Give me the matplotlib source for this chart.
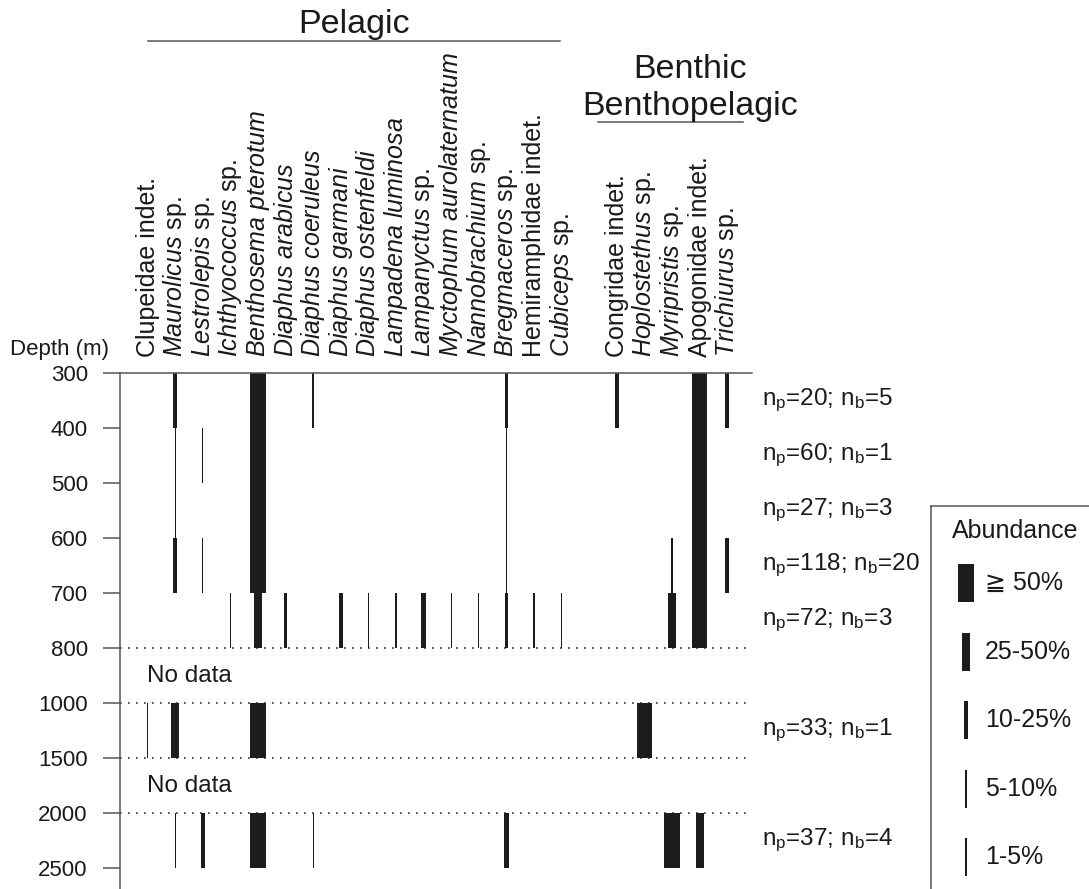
import matplotlib
matplotlib.use("Agg")
import matplotlib.pyplot as plt

plt.rcParams["font.family"] = "Liberation Sans"
plt.rcParams["mathtext.fontset"] = "custom"
plt.rcParams["mathtext.rm"] = "Liberation Sans"
plt.rcParams["mathtext.it"] = "Liberation Sans:italic"

# ---- data -------------------------------------------------------------
depth_ticks = [300, 400, 500, 600, 700, 800, 1000, 1500, 2000, 2500]
intervals = [(300, 400), (400, 500), (500, 600), (600, 700), (700, 800),
             (1000, 1500), (2000, 2500)]
sample_sizes = ["n$_{\\rm p}$=20; n$_{\\rm b}$=5", "n$_{\\rm p}$=60; n$_{\\rm b}$=1",
                "n$_{\\rm p}$=27; n$_{\\rm b}$=3", "n$_{\\rm p}$=118; n$_{\\rm b}$=20",
                "n$_{\\rm p}$=72; n$_{\\rm b}$=3", "n$_{\\rm p}$=33; n$_{\\rm b}$=1",
                "n$_{\\rm p}$=37; n$_{\\rm b}$=4"]
no_data = [(800, 1000), (1500, 2000)]

pelagic = ["Clupeidae indet.", "Maurolicus sp.", "Lestrolepis sp.", "Ichthyococcus sp.",
           "Benthosema pterotum", "Diaphus arabicus", "Diaphus coeruleus",
           "Diaphus garmani", "Diaphus ostenfeldi", "Lampadena luminosa",
           "Lampanyctus sp.", "Myctophum aurolaternatum", "Nannobrachium sp.",
           "Bregmaceros sp.", "Hemiramphidae indet.", "Cubiceps sp."]
benthic = ["Congridae indet.", "Hoplostethus sp.", "Myripristis sp.",
           "Apogonidae indet.", "Trichiurus sp."]

# abundance class per interval: 0 none, 1 1-5%, 2 5-10%, 3 10-25%, 4 25-50%, 5 >=50%
pelagic_abund = [
    [0, 0, 0, 0, 0, 1, 0],
    [3, 1, 1, 3, 0, 4, 1],
    [0, 1, 0, 1, 0, 0, 3],
    [0, 0, 0, 0, 1, 0, 0],
    [5, 5, 5, 5, 4, 5, 5],
    [0, 0, 0, 0, 2, 0, 0],
    [2, 0, 0, 0, 0, 0, 1],
    [0, 0, 0, 0, 3, 0, 0],
    [0, 0, 0, 0, 1, 0, 0],
    [0, 0, 0, 0, 2, 0, 0],
    [0, 0, 0, 0, 3, 0, 0],
    [0, 0, 0, 0, 1, 0, 0],
    [0, 0, 0, 0, 1, 0, 0],
    [2, 1, 1, 1, 2, 0, 3],
    [0, 0, 0, 0, 1, 0, 0],
    [0, 0, 0, 0, 1, 0, 0],
]
benthic_abund = [
    [3, 0, 0, 0, 0, 0, 0],
    [0, 0, 0, 0, 0, 5, 0],
    [0, 0, 0, 2, 4, 0, 5],
    [5, 5, 5, 5, 5, 0, 4],
    [3, 0, 0, 3, 0, 0, 0],
]
class_labels = ["\u2267 50%", "25-50%", "10-25%", "5-10%", "1-5%"]

# ---- layout -----------------------------------------------------------
W, H = 1089, 889
COL_PX = 27.6
ROW_PX = 55.0
BAR_PX = {1: 1.2, 2: 2.4, 3: 4.3, 4: 8.0, 5: 15.5}
INK = "#1c1c1c"
TXT = "#1a1a1a"
AXC = "#555555"
FS = 17.5
FS_SP = 18
FS_TICK = 16


def fmt(name):
    if name.endswith(" indet."):
        return name
    if name.endswith(" sp."):
        return "$\\mathit{%s}$ sp." % name[:-4]
    return " ".join("$\\mathit{%s}$" % w for w in name.split())


fig = plt.figure(figsize=(W / 100, H / 100), dpi=100)
ax_l, ax_r, ax_t = 120, 752, 373
ax = fig.add_axes([ax_l / W, 0, (ax_r - ax_l) / W, (H - ax_t) / H])
ax.set_xlim(-1, -1 + (ax_r - ax_l) / COL_PX)
ax.set_ylim((H - ax_t) / ROW_PX, 0)

xpos = list(range(len(pelagic))) + [len(pelagic) + 1 + i for i in range(len(benthic))]
names = pelagic + benthic
abund = pelagic_abund + benthic_abund

for x, row in zip(xpos, abund):
    for (d0, d1), c in zip(intervals, row):
        if c == 0:
            continue
        y0 = depth_ticks.index(d0)
        y1 = depth_ticks.index(d1)
        ax.bar(x, y1 - y0, bottom=y0, width=BAR_PX[c] / COL_PX, color=INK, lw=0)

for d in (800, 1000, 1500, 2000):
    ax.axhline(depth_ticks.index(d), color="#333333", lw=1.2, dashes=(1, 3.8), zorder=0)

for (d0, d1) in no_data:
    ym = (depth_ticks.index(d0) + depth_ticks.index(d1)) / 2
    ax.text(-0.02, ym, "No data", fontsize=FS, va="center", ha="left", color=TXT)

for (d0, d1), s in zip(intervals, sample_sizes):
    ym = (depth_ticks.index(d0) + depth_ticks.index(d1)) / 2
    ax.text(-1 + (762 - ax_l) / COL_PX, ym, s, fontsize=FS, va="center", ha="left",
            color=TXT, clip_on=False)

ax.set_yticks(range(len(depth_ticks)), [str(d) for d in depth_ticks])
ax.set_xticks(xpos, [fmt(n) for n in names], rotation=90)
ax.tick_params(axis="y", length=12.2, width=1.1, color=AXC, pad=11, labelsize=FS_TICK,
               labelcolor=TXT)
ax.tick_params(axis="x", top=True, bottom=False, labeltop=True, labelbottom=False,
               length=0, pad=11.5, labelsize=FS_SP, labelcolor=TXT)
for side in ("right", "bottom"):
    ax.spines[side].set_visible(False)
for side in ("left", "top"):
    ax.spines[side].set_color(AXC)
    ax.spines[side].set_linewidth(1.1)

fig.text(10 / W, 1 - 350 / H, "Depth (m)", fontsize=FS_TICK, ha="left", va="center", color=TXT)

# group headers
fig.text(354 / W, 1 - 24 / H, "Pelagic", fontsize=24.5, ha="center", va="center", color=TXT)
fig.add_artist(plt.Line2D([148 / W, 560 / W], [1 - 41 / H] * 2, color=AXC, lw=1.1))
fig.text(690 / W, 1 - 70 / H, "Benthic", fontsize=24.5, ha="center", va="center", color=TXT)
fig.text(690 / W, 1 - 106 / H, "Benthopelagic", fontsize=24.5, ha="center", va="center",
         color=TXT)
fig.add_artist(plt.Line2D([598 / W, 743 / W], [1 - 122 / H] * 2, color=AXC, lw=1.1))

# legend panel (box runs off the right and bottom edge)
lg_l, lg_t = 931, 506
lg = fig.add_axes([lg_l / W, 0, (W - lg_l) / W, (H - lg_t) / H])
lg.set_xlim(0, W - lg_l)
lg.set_ylim(H - lg_t, 0)
lg.set_xticks([])
lg.set_yticks([])
for side in ("right", "bottom"):
    lg.spines[side].set_visible(False)
for side in ("left", "top"):
    lg.spines[side].set_color(AXC)
    lg.spines[side].set_linewidth(1.1)
lg.text(21, 25, "Abundance", fontsize=18, ha="left", va="center", color=TXT)
for i, (c, lab) in enumerate(zip([5, 4, 3, 2, 1], class_labels)):
    yc = 77 + i * 68.6
    lg.bar(35, 38, bottom=yc - 19, width=BAR_PX[c], color=INK, lw=0)
    lg.text(54, yc, lab, fontsize=18, ha="left", va="center", color=TXT,
            family=["Liberation Sans", "DejaVu Sans"])

fig.savefig("out.png", dpi=100)
